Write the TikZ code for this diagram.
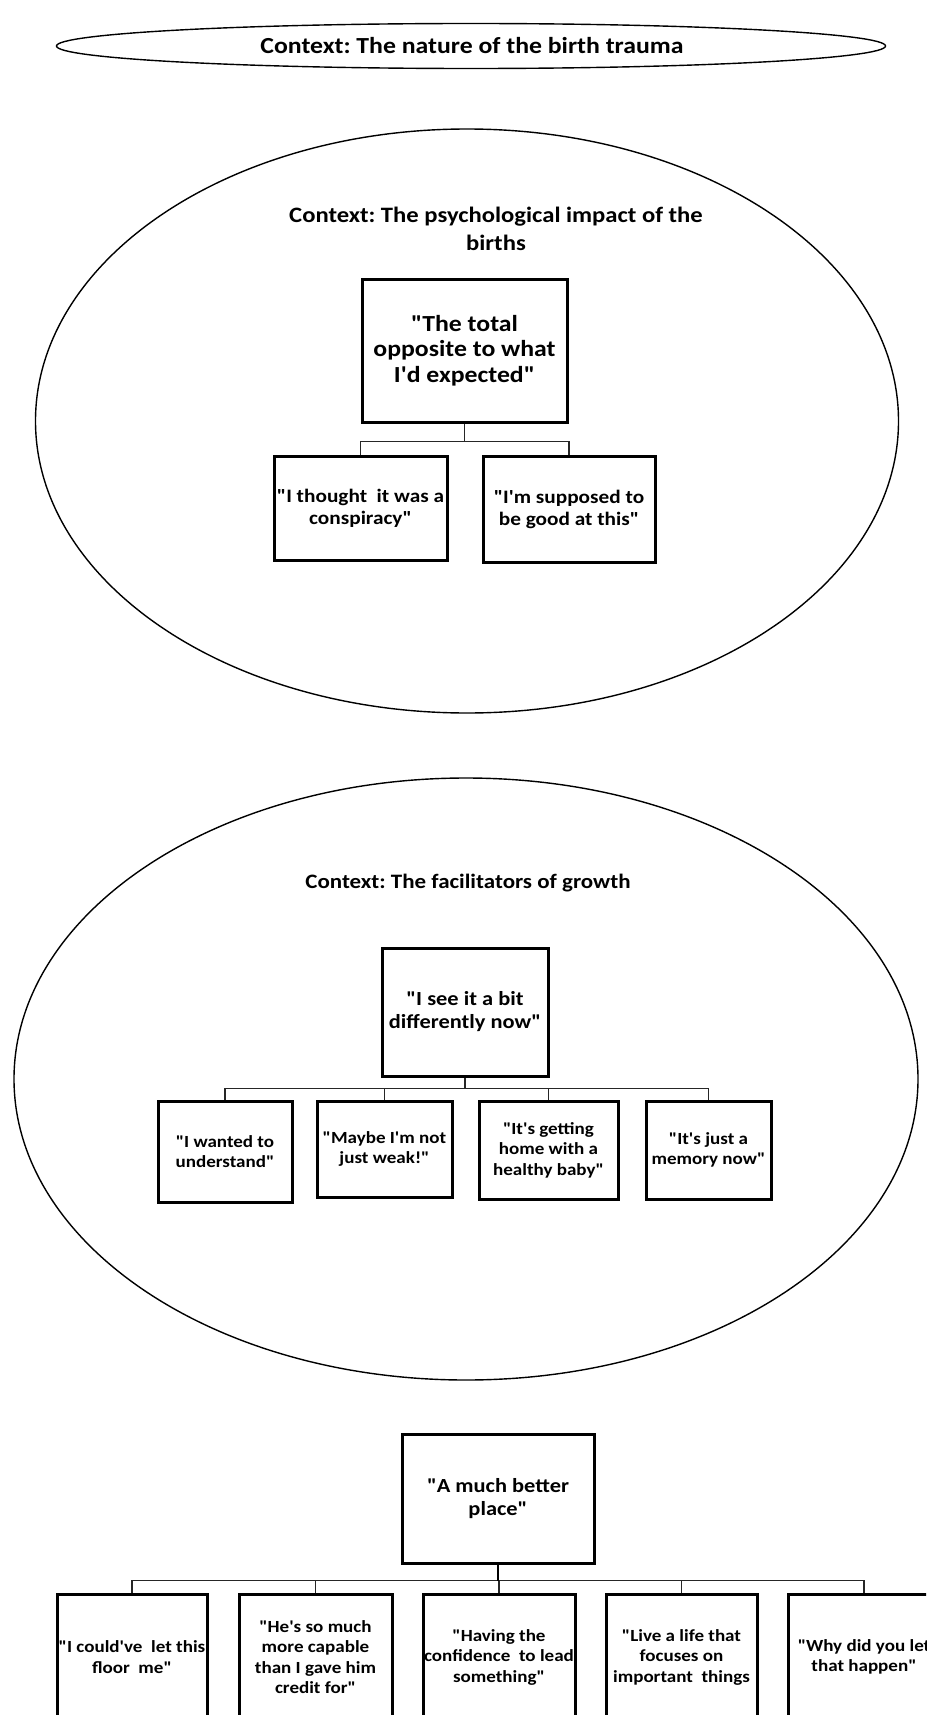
\documentclass[tikz,border=0pt]{standalone}
\usepackage{fontspec}
\newfontfamily\cf{Carlito}[FakeStretch=1.12]
\usetikzlibrary{shapes.geometric}
\newcommand\myfs[2]{\fontsize{#1}{#2}\selectfont}
\frenchspacing
\tikzset{
  ctx/.style={draw, ellipse, line width=1.4pt, inner sep=0pt},
  qbox/.style={draw, line width=3pt, inner sep=0pt, align=center},
  ttl/.style={inner sep=0pt, align=center},
  conn/.style={line width=1.4pt, draw=black!85},
  stub/.style={line width=2.2pt},
  big/.style={font=\cf\bfseries\frenchspacing\myfs{23}{25.5}},
  mid/.style={font=\cf\bfseries\frenchspacing\myfs{20}{23}},
  sml/.style={font=\cf\bfseries\frenchspacing\myfs{19}{22}},
  tiny/.style={font=\cf\bfseries\frenchspacing\myfs{17}{20.5}},
}
\begin{document}
\begin{tikzpicture}[x=1pt,y=-1pt]
\useasboundingbox (0,0) rectangle (926,1715);
\clip (0,0) rectangle (926,1715);
% top context
\node[ctx, minimum width=829, minimum height=45] (E1) at (471,46) {};
\node[ttl, font=\cf\bfseries\frenchspacing\myfs{23}{28}] (T1) at (472,46) {Context: The nature of the birth trauma};
% second context
\node[ctx, minimum width=863, minimum height=584] (E2) at (467,421) {};
\node[ttl, font=\cf\bfseries\frenchspacing\myfs{22}{28}] (T2) at (496,229) {Context: The psychological impact of the\\births};
\node[qbox, big, minimum width=205, minimum height=143] (A) at (464.5,350.5) {"The total\\opposite to what\\I'd expected"};
\node[qbox, sml, minimum width=173, minimum height=104] (A1) at (360.5,508) {"I thought\ \ it was a\\conspiracy"};
\node[qbox, sml, minimum width=172, minimum height=106] (A2) at (569,509) {"I'm supposed to\\be good at this"};
\draw[conn] (A.south) -- ++(0,18) -| (A1.north);
\draw[conn] (A.south) ++(0,18) -| (A2.north);
% third context
\node[ctx, minimum width=904, minimum height=602] (E3) at (466,1079) {};
\node[ttl, font=\cf\bfseries\frenchspacing\myfs{20.5}{25}] (T3) at (468,883) {Context: The facilitators of growth};
\node[qbox, mid, minimum width=166, minimum height=128] (B) at (465,1012) {"I see it a bit\\differently now"};
\node[qbox, tiny, minimum width=134, minimum height=101] (B1) at (225,1151.5) {"I wanted to\\understand"};
\node[qbox, tiny, minimum width=135, minimum height=96] (B2) at (384.5,1149) {"Maybe I'm not\\just weak!"};
\node[qbox, tiny, minimum width=139, minimum height=98] (B3) at (548.5,1150) {"It's getting\\home with a\\healthy baby"};
\node[qbox, tiny, minimum width=125, minimum height=98] (B4) at (708.5,1150) {"It's just a\\memory now"};
\draw[conn] (B.south) -- ++(0,11) -| (B1.north);
\draw[conn] (B.south) ++(0,11) -| (B2.north);
\draw[conn] (B.south) ++(0,11) -| (B3.north);
\draw[conn] (B.south) ++(0,11) -| (B4.north);
% bottom tree
\node[qbox, mid, minimum width=192, minimum height=129] (C) at (498,1498.5) {"A much better\\place"};
\node[qbox, tiny, minimum width=150, minimum height=126] (C1) at (132,1657) {"I could've\ \ let this\\floor\ \ me"};
\node[qbox, tiny, minimum width=153, minimum height=126] (C2) at (315.5,1657) {"He's so much\\more capable\\than I gave him\\credit for"};
\node[qbox, tiny, minimum width=152, minimum height=126] (C3) at (499,1657) {"Having the\\confidence\ \ to lead\\something"};
\node[qbox, tiny, minimum width=151, minimum height=126] (C4) at (681.5,1657) {"Live a life that\\focuses on\\important\ \ things};
\node[qbox, tiny, minimum width=152, minimum height=126] (C5) at (864,1657) {"Why did you let\\that happen"};
\draw[conn] (C.south) ++(0,16) -| (C1.north);
\draw[conn] (C.south) ++(0,16) -| (C2.north);
\draw[conn] (C.south) ++(0,16) -| (C3.north);
\draw[conn] (C.south) ++(0,16) -| (C4.north);
\draw[conn] (C.south) ++(0,16) -| (C5.north);
\draw[stub] (C.south) -- ++(0,16);
\end{tikzpicture}
\end{document}
